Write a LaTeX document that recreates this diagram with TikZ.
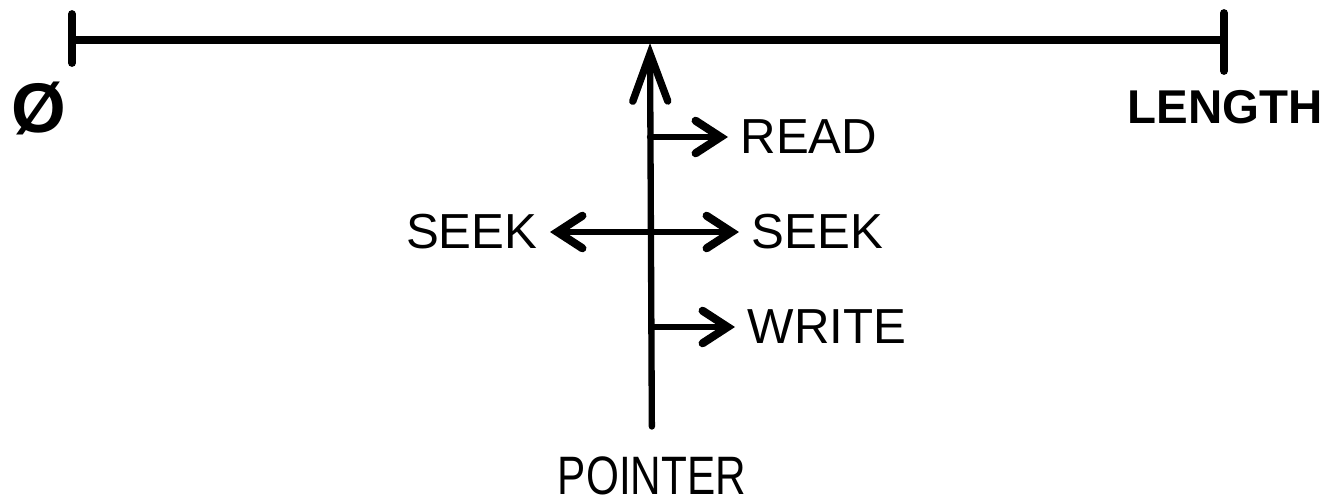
\documentclass[tikz,border=0pt]{standalone}
\usepackage{fontspec}
\setmainfont{Liberation Sans}
\usepackage{tikz}
\usetikzlibrary{arrows.meta, positioning}

\tikzset{
  lbl/.style={inner sep=0pt, font=\fontsize{28}{30}\selectfont},
  sidelbl/.style={lbl, inner xsep=7pt},
  barline/.style={line width=4.4pt, line cap=round},
  sidearrow/.style={line width=3.6pt, line cap=round, -{Straight Barb[length=5mm,width=6.5mm,line width=4.6pt,line cap=round]}},
  ptrarrow/.style={line width=3.6pt, line cap=round, -{Straight Barb[length=9.5mm,width=7mm,line width=4.2pt,line cap=round]}}
}

\begin{document}
\begin{tikzpicture}[x=0.02cm, y=-0.02cm]
    \useasboundingbox (0,0) rectangle (1330,504);

    % the file as a line from zero to its length
    \coordinate (zerotop) at (72,14);
    \coordinate (zerobot) at (72,63);
    \coordinate (lentop) at (1224,13);
    \coordinate (lenbot) at (1224,71);
    \coordinate (zero) at (72,40);
    \coordinate (len) at (1224,40);
    \coordinate (ptrtip) at (650,43);

    \draw[barline] (zero) -- (len);
    \draw[barline] (zerotop) -- (zerobot);
    \draw[barline] (lentop) -- (lenbot);

    \node[lbl, font=\fontsize{40}{42}\selectfont\bfseries] (zerolbl) at (39,108) {Ø};
    \node[lbl, font=\fontsize{27}{30}\selectfont\bfseries] (lenlbl) at (1225,107) {LENGTH};

    % the pointer and what moves it
    \node[lbl] (pointer) at (652,476) {\scalebox{0.86}[1.1]{POINTER}};
    \draw[ptrarrow, shorten <=0.6cm] (pointer.north) -- (ptrtip);

    \coordinate (atread) at (650,137);
    \coordinate (atseek) at (650,232);
    \coordinate (atwrite) at (652,327);

    \node[sidelbl, anchor=west] (read) at (728,137) {READ};
    \node[sidelbl, anchor=west] (seekfwd) at (739,232) {SEEK};
    \node[sidelbl, anchor=east] (seekback) at (550,232) {SEEK};
    \node[sidelbl, anchor=west] (write) at (735,327) {WRITE};

    \draw[sidearrow] (atread) -- (read);
    \draw[sidearrow] (atseek) -- (seekfwd);
    \draw[sidearrow] (atseek) -- (seekback);
    \draw[sidearrow] (atwrite) -- (write);
\end{tikzpicture}
\end{document}
